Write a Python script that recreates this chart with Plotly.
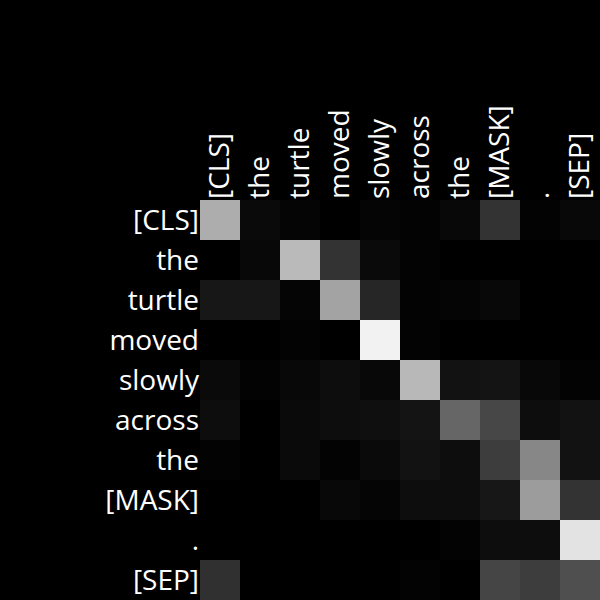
import plotly.graph_objects as go

tokens = ["[CLS]", "the", "turtle", "moved", "slowly", "across", "the", "[MASK]", ".", "[SEP]"]

# attention weights (rows = query token, cols = key token)
row_cls    = [0.68, 0.04, 0.02, 0.00, 0.02, 0.01, 0.03, 0.20, 0.01, 0.03]
row_the1   = [0.00, 0.03, 0.73, 0.20, 0.04, 0.01, 0.00, 0.00, 0.00, 0.00]
row_turtle = [0.09, 0.09, 0.02, 0.64, 0.15, 0.01, 0.02, 0.03, 0.00, 0.00]
row_moved  = [0.00, 0.00, 0.01, 0.00, 0.95, 0.01, 0.00, 0.00, 0.00, 0.00]
row_slowly = [0.04, 0.01, 0.03, 0.05, 0.03, 0.72, 0.07, 0.08, 0.03, 0.01]
row_across = [0.05, 0.00, 0.04, 0.05, 0.06, 0.08, 0.40, 0.28, 0.05, 0.07]
row_the2   = [0.01, 0.00, 0.04, 0.01, 0.04, 0.07, 0.05, 0.24, 0.53, 0.07]
row_mask   = [0.00, 0.00, 0.00, 0.03, 0.02, 0.05, 0.05, 0.09, 0.61, 0.20]
row_dot    = [0.00, 0.00, 0.00, 0.00, 0.00, 0.00, 0.01, 0.05, 0.05, 0.89]
row_sep    = [0.19, 0.00, 0.00, 0.00, 0.00, 0.01, 0.00, 0.27, 0.24, 0.31]

z = [row_cls, row_the1, row_turtle, row_moved, row_slowly,
     row_across, row_the2, row_mask, row_dot, row_sep]

idx = list(range(len(tokens)))

fig = go.Figure(go.Heatmap(
    z=z, x=idx, y=idx,
    colorscale=[[0, "black"], [1, "white"]],
    zmin=0, zmax=1, showscale=False,
))

font = dict(family="Open Sans", size=28, color="white")
fig.update_xaxes(side="top", tickvals=idx, ticktext=tokens, tickangle=-90,
                 tickfont=font, showgrid=False, zeroline=False, ticks="")
fig.update_yaxes(autorange="reversed", tickvals=idx, ticktext=tokens,
                 tickfont=font, showgrid=False, zeroline=False, ticks="")
fig.update_layout(
    width=600, height=600,
    margin=dict(l=200, r=0, t=200, b=0),
    paper_bgcolor="black", plot_bgcolor="black",
)
fig.write_html("out.html")
